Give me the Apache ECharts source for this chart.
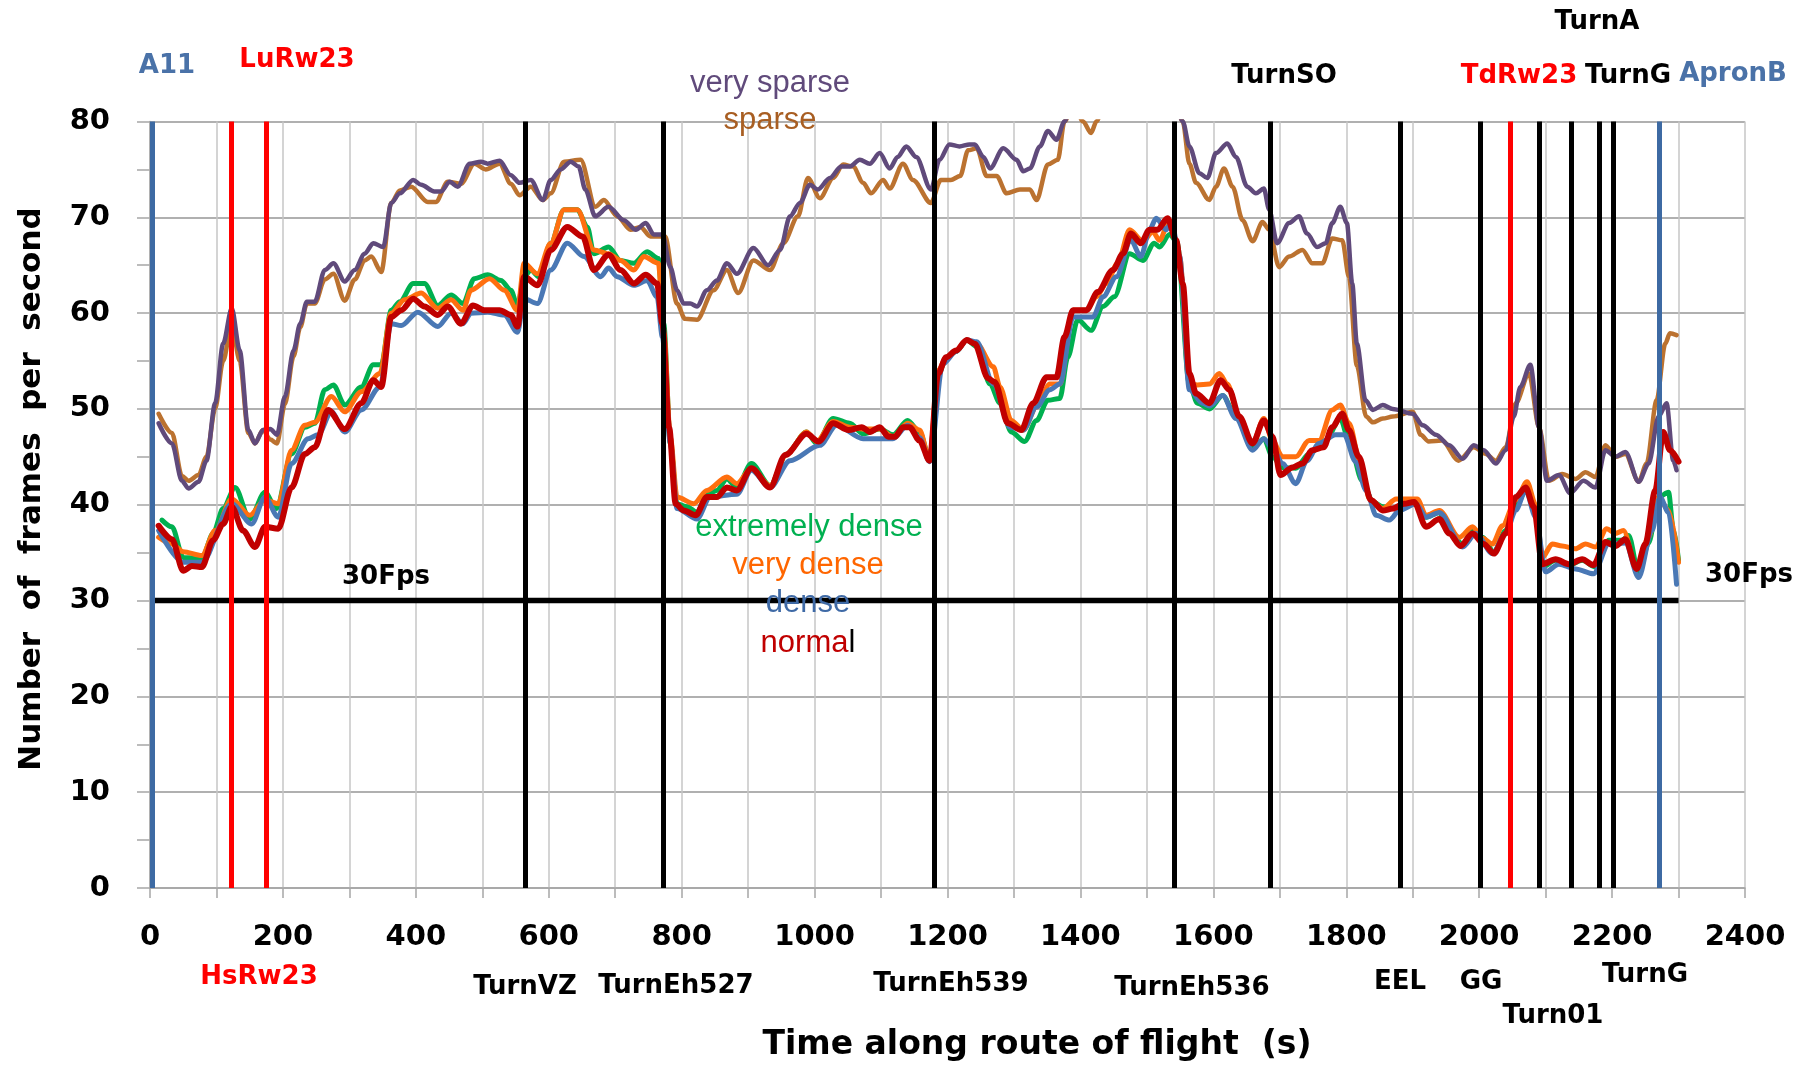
<!DOCTYPE html>
<html><head><meta charset="utf-8">
<script src="https://cdn.jsdelivr.net/npm/echarts@6.0.0/dist/echarts.min.js"></script>
<style>html,body{margin:0;padding:0;background:#fff}#c{width:1797px;height:1068px}</style>
</head><body><div id="c"></div>
<script>
// ---- data: [time (s), frames per second] ----
const verySparse = [[13,48.5],[33,46.4],[48,42.5],[58,41.7],[73,42.4],[85,44.6],[98,50.6],[110,56.8],[123,60.5],[135,56.1],[148,47.8],[158,46.4],[170,47.8],[181,47.9],[191,47.3],[203,51.3],[216,56.1],[226,58.9],[236,61.2],[248,61.2],[263,64.5],[276,65.2],[293,63.3],[308,64.5],[323,66.2],[336,67.3],[351,66.9],[363,71.5],[376,72.5],[396,73.9],[408,73.4],[428,72.7],[438,72.7],[451,73.7],[463,73.2],[481,75.6],[498,75.8],[508,75.6],[526,75.9],[543,74.4],[556,73.6],[573,73.9],[591,71.8],[603,73.9],[618,75],[633,75.8],[645,75.3],[655,72.9],[670,70.1],[690,71.1],[713,69.7],[731,68.7],[746,69.4],[758,68.2],[771,68.2],[783,64.8],[793,62.4],[803,61],[813,61],[823,60.7],[838,62.4],[853,63.4],[868,65.2],[883,64.1],[908,66.8],[930,65],[948,66.6],[963,70.1],[978,71.5],[993,73.4],[1005,72.9],[1023,74.1],[1040,75.3],[1053,75.3],[1068,76],[1083,75.6],[1098,76.7],[1113,75.1],[1125,76.3],[1138,77.4],[1153,76.3],[1175,72.9],[1188,76],[1203,77.6],[1218,77.4],[1233,77.6],[1241,77.6],[1254,76.3],[1264,75.1],[1284,77.2],[1304,76],[1314,74.8],[1324,75.1],[1339,77.4],[1351,79],[1364,78.1],[1376,80],[1390,83],[1420,85],[1460,86],[1500,85],[1540,83],[1554,80],[1564,77.4],[1579,74.6],[1591,74.1],[1604,76.7],[1621,77.7],[1634,76.3],[1651,73.2],[1664,72.5],[1676,73],[1684,70.8],[1696,67.3],[1714,69.4],[1729,70.1],[1741,68.3],[1756,66.9],[1769,67.3],[1779,69.4],[1791,71.1],[1801,69.4],[1809,63.1],[1816,56.8],[1829,50.9],[1840,49.9],[1855,50.4],[1870,50],[1900,49.5],[1915,48.3],[1935,47.3],[1955,46.2],[1975,44.8],[1992,46.2],[2007,45.7],[2025,44.3],[2040,45.7],[2052,49.2],[2062,52.3],[2077,54.6],[2090,48.1],[2102,42.5],[2120,43.1],[2137,41.2],[2157,42.5],[2175,41.8],[2190,45.7],[2205,45],[2220,45.5],[2240,42.4],[2255,44.3],[2270,49.2],[2282,50.6],[2292,44.6],[2297,43.6]];
const sparse = [[13,49.5],[33,47.5],[48,43],[58,42.5],[73,43.1],[85,45],[98,50],[110,55],[123,58.9],[135,55],[148,47.5],[158,46.4],[170,47.8],[181,46.8],[191,46.4],[203,50.5],[216,55.5],[226,58.5],[236,61],[248,61],[263,63.5],[276,64.1],[293,61.3],[308,63.5],[323,65.5],[333,65.9],[348,64.3],[363,71.5],[376,72.8],[393,73.2],[418,71.6],[430,71.6],[448,73.7],[468,73.5],[488,75.6],[505,75],[526,75.6],[543,73.5],[556,72.3],[573,73.2],[591,71.8],[603,72.5],[623,75.8],[648,76],[670,71.1],[683,71.8],[703,70.1],[723,68.7],[738,69],[753,68],[775,68],[793,61],[805,59.4],[823,59.3],[848,62.4],[868,64.5],[885,62.1],[908,65.5],[933,64.5],[953,67.3],[975,70.1],[990,74.1],[1008,72],[1028,74.1],[1043,75.5],[1058,75.3],[1073,73.6],[1085,72.5],[1103,73.9],[1113,73],[1133,75.6],[1148,73.9],[1175,71.5],[1190,73.9],[1205,73.9],[1219,74.3],[1231,77],[1244,77.2],[1259,74.3],[1274,74.3],[1289,72.5],[1309,72.9],[1324,72.9],[1334,71.8],[1351,75.5],[1366,76],[1376,80],[1390,82],[1404,80],[1416,78.8],[1424,80],[1440,83],[1500,85],[1540,83],[1554,80],[1564,75.6],[1574,73.6],[1594,71.8],[1604,73.2],[1616,75.1],[1629,73.2],[1644,69.7],[1659,67.5],[1674,69.5],[1684,68.7],[1699,64.8],[1714,65.9],[1734,66.6],[1749,65.2],[1764,65.2],[1779,67.8],[1794,67.6],[1804,63.8],[1816,54.5],[1830,49.2],[1840,48.6],[1855,49],[1870,49.2],[1900,49.7],[1912,47.3],[1924,46.6],[1944,46.7],[1969,44.6],[1992,46],[2010,45.3],[2025,44.6],[2040,46],[2055,50.6],[2075,53.7],[2090,48.1],[2105,42.5],[2125,43.2],[2145,42.7],[2160,43.4],[2175,42.9],[2190,46.2],[2205,45],[2220,45.3],[2240,42.4],[2252,44.3],[2267,50.9],[2280,56.8],[2287,57.9],[2297,57.7]];
const extremelyDense = [[18,38.4],[33,37.7],[50,34.5],[78,34.4],[95,37],[110,39.6],[128,41.8],[150,38.5],[173,41.3],[190,39.6],[213,45.3],[233,48.1],[248,48.5],[263,52],[276,52.5],[293,50.4],[318,52.3],[336,54.6],[348,54.6],[363,60.3],[376,61.2],[396,63.1],[413,63.1],[433,60.8],[453,61.9],[471,61],[488,63.6],[508,64],[528,63.4],[543,62.4],[553,60.7],[563,63.8],[573,64.5],[585,63.8],[603,67.3],[623,70.8],[643,70.8],[658,69],[668,66.2],[690,66.9],[708,65.5],[728,65.2],[748,66.4],[765,65.7],[773,58.9],[783,46.4],[793,40.1],[808,39.8],[823,39.2],[838,41.1],[853,41.5],[868,42.7],[883,41.8],[905,44.3],[933,42],[958,45.3],[988,47.6],[1003,46.4],[1028,49],[1053,48.5],[1073,47.4],[1098,47.9],[1118,47.3],[1140,48.8],[1158,47.6],[1173,44.8],[1186,53.5],[1198,55.4],[1213,56],[1229,57.2],[1244,56.5],[1264,52.6],[1279,50.6],[1296,47.6],[1316,46.6],[1334,48.8],[1351,50.9],[1369,51.1],[1381,55.4],[1396,59.3],[1416,58.2],[1434,60.7],[1451,61.7],[1474,66.2],[1494,65.5],[1511,67.3],[1519,66.9],[1534,68.2],[1545,67.5],[1564,52.6],[1576,50.6],[1594,50],[1614,51.4],[1634,49.2],[1659,45.9],[1676,46.9],[1689,45],[1704,43.9],[1724,43.8],[1744,45.3],[1769,46.7],[1791,49],[1804,46.7],[1824,42.5],[1840,40.3],[1855,39.8],[1870,39.6],[1887,40.1],[1905,40.3],[1920,38.7],[1940,39.2],[1955,37.3],[1975,35.9],[1990,37.3],[2005,36.6],[2022,35.1],[2040,37.3],[2055,39.8],[2070,41.5],[2085,39.4],[2095,33.5],[2115,34.2],[2135,33.7],[2155,34.2],[2175,33.5],[2195,36.3],[2215,36.3],[2225,36.8],[2240,32.8],[2255,36],[2270,40.8],[2285,41.3],[2292,37.5],[2300,34.2]];
const veryDense = [[13,36.6],[33,35.9],[50,35.1],[78,34.7],[98,37.3],[123,40.6],[150,38.9],[173,40.5],[193,40.1],[213,45.7],[233,48.3],[248,48.6],[273,51.3],[293,49.7],[318,51.8],[346,53.7],[363,60],[383,61.4],[408,62.1],[433,60.5],[453,61.4],[471,60.3],[483,62.4],[511,63.6],[533,62.4],[553,60.3],[563,65.2],[583,64.1],[603,67.3],[623,70.8],[643,70.8],[668,66.6],[690,66.2],[708,65.5],[728,64.5],[743,65.9],[765,65.2],[773,58],[783,47],[793,40.8],[818,40.1],[838,41.5],[868,42.9],[883,42.2],[905,43.8],[933,42],[958,45.3],[988,47.6],[1003,46.6],[1028,48.7],[1053,48.1],[1073,47.9],[1098,47.9],[1118,47.1],[1140,48.5],[1158,47.8],[1173,44.7],[1186,54],[1198,55.4],[1213,56.1],[1229,57.2],[1244,56.8],[1269,54.4],[1279,52.3],[1296,48.8],[1314,47.8],[1334,50.2],[1354,52.6],[1369,52.6],[1389,60.3],[1409,60.3],[1424,61.7],[1439,63.1],[1456,65.2],[1474,68.7],[1494,67.5],[1509,68.5],[1519,67.6],[1534,69.7],[1549,66],[1564,52.6],[1576,52.5],[1594,52.6],[1609,53.7],[1621,52.6],[1639,49.2],[1659,46.4],[1676,49],[1689,46.7],[1704,45],[1724,45],[1744,46.7],[1759,46.7],[1779,49.9],[1791,50.4],[1804,48.5],[1824,43.5],[1835,40.6],[1855,39.6],[1875,40.6],[1892,40.6],[1907,40.6],[1920,38.9],[1940,39.4],[1970,36.6],[1990,37.7],[2005,36.5],[2020,35.9],[2035,37.8],[2055,40.5],[2072,42.4],[2085,40],[2095,34.5],[2110,35.9],[2125,35.7],[2145,35.4],[2160,35.9],[2175,35.6],[2192,37.5],[2205,37],[2217,37.3],[2237,33.3],[2255,36.6],[2270,40.8],[2285,39.4],[2300,34]];
const dense = [[13,37.3],[50,34],[78,34],[123,40.1],[153,38],[173,40.8],[193,38.7],[213,44.3],[238,46.9],[253,47.3],[273,49.7],[293,47.6],[318,49.9],[346,52.3],[363,58.9],[378,58.7],[403,60.1],[433,58.6],[453,60],[471,58.9],[483,60],[508,60.1],[533,59.8],[553,58],[563,61.5],[583,61],[603,64.5],[628,67.3],[653,65.9],[678,63.8],[690,64.7],[703,63.8],[728,62.9],[748,63.4],[763,61.7],[771,57.5],[783,46.4],[793,39.6],[823,38.5],[843,40.8],[883,41.1],[905,43.6],[933,41.8],[963,44.6],[1008,46.2],[1033,48.3],[1073,46.9],[1118,46.9],[1140,48.3],[1158,47],[1173,44.5],[1193,54.7],[1213,56],[1229,57.2],[1244,57],[1269,52.6],[1294,48.1],[1314,47.8],[1334,50.2],[1354,52],[1369,52.6],[1389,59.6],[1419,59.6],[1434,61.7],[1454,63.8],[1476,67.6],[1491,65.9],[1504,68.7],[1514,69.9],[1529,68.7],[1537,69.5],[1549,66],[1564,52],[1584,50.6],[1594,50.3],[1614,51.4],[1634,49],[1659,45.7],[1676,46.9],[1691,45.7],[1704,44.3],[1724,42.2],[1741,44.6],[1759,46.4],[1784,47.3],[1797,47.3],[1814,44.5],[1830,41.5],[1845,38.9],[1865,38.4],[1880,39.4],[1905,40.1],[1920,38.7],[1940,39.2],[1975,35.6],[1995,37],[2020,34.9],[2040,37],[2055,39.4],[2070,41.5],[2085,38.7],[2100,33],[2120,33.8],[2145,33.3],[2172,32.8],[2195,35.9],[2220,36],[2240,32.4],[2260,37.3],[2272,40.8],[2285,39.2],[2297,31.7]];
const normal = [[13,37.8],[33,36.4],[50,33.1],[63,33.6],[78,33.5],[95,36.3],[110,38],[123,39.8],[140,37.3],[158,35.6],[173,37.7],[193,37.5],[213,41.8],[233,45.3],[248,46],[268,49.9],[293,47.9],[318,50.6],[336,53],[348,52.3],[363,59.6],[378,60.3],[396,61.5],[413,60.7],[433,59.8],[448,60.7],[468,58.9],[486,60.8],[503,60.3],[526,60.3],[543,59.8],[553,58.6],[563,63.8],[583,62.9],[603,66.6],[628,69],[651,68],[668,64.5],[690,66.1],[708,64.5],[728,63.1],[746,64],[763,63.1],[771,58.9],[781,48.1],[791,40.1],[803,39.4],[821,38.9],[838,40.8],[853,40.8],[868,41.8],[883,41.5],[905,43.8],[933,41.8],[956,45.2],[988,47.4],[1006,46.6],[1028,48.5],[1051,47.8],[1071,48.1],[1083,47.6],[1098,48.1],[1111,47.1],[1121,47.1],[1133,48.1],[1143,48.1],[1158,46.7],[1173,44.6],[1186,53.7],[1198,55.4],[1213,56.1],[1229,57.2],[1241,56.8],[1261,53.2],[1271,52.8],[1291,48.5],[1311,47.8],[1329,50.6],[1349,53.3],[1364,53.3],[1376,57.5],[1389,60.3],[1409,60.3],[1426,62.2],[1449,64.5],[1464,66.2],[1476,68.3],[1491,67.3],[1504,68.7],[1516,68.7],[1531,69.9],[1544,67.6],[1554,63.1],[1564,53.7],[1574,51.6],[1594,50.6],[1611,53],[1624,52],[1639,49.2],[1659,46.4],[1676,48.8],[1689,47.1],[1701,43.1],[1719,43.9],[1734,44.3],[1749,45.7],[1766,46],[1779,48.1],[1794,49.5],[1804,47.8],[1819,45],[1837,40.5],[1855,39.4],[1870,39.6],[1887,40.1],[1902,40.3],[1920,37.7],[1940,38.5],[1955,37],[1972,35.7],[1990,37],[2007,35.9],[2022,34.9],[2040,37],[2055,40.8],[2070,41.8],[2082,39.8],[2095,33.8],[2115,34.3],[2135,33.8],[2155,34.3],[2172,33.7],[2190,36.1],[2205,35.7],[2220,36.4],[2237,33.3],[2250,35.9],[2265,41.5],[2277,47.6],[2287,45.7],[2300,44.5]];
const thresholdLine = [[0,30],[2300,30]];
const markerTimes = [3,122,175,564,773,1180,1541,1685,1881,2001,2047,2091,2139,2180,2202,2271];
const markerKinds = ['apron','runway','runway','turn','turn','turn','turn','turn','turn','turn','runway','turn','turn','turn','turn','apron'];

const kindColor = {apron:'#3d6aa3', runway:'#ff0000', turn:'#000000'};
const kindWidth = {apron:5, runway:5, turn:5};

const chart = echarts.init(document.getElementById('c'), null, {renderer:'canvas'});
const F = '"DejaVu Sans", sans-serif';
const A = '"Liberation Sans", Arial, sans-serif';
function lineSeries(name, data, color, width) {
  return {name, type:'line', data, showSymbol:false, symbol:'none', smooth:0.3, smoothMonotone:'x',
    lineStyle:{color, width, join:'round', cap:'round'}, itemStyle:{color}, silent:true, animation:false, z:3};
}
const txt = (text, x, y, fill, font, extra) => Object.assign({type:'text', x, y, silent:true, z:100,
  style:{text, fill, font, align:'center', verticalAlign:'middle'}}, extra || {});

chart.setOption({
  animation:false,
  backgroundColor:'#ffffff',
  grid:{left:150, right:52, top:121.5, bottom:180, containLabel:false},
  xAxis:{type:'value', min:0, max:2400, interval:100,
    axisLine:{show:true, lineStyle:{color:'#a6a6a6', width:1.5}},
    axisTick:{show:true, length:10, lineStyle:{color:'#a6a6a6', width:1.5}},
    axisLabel:{margin:35, color:'#000', fontFamily:'DejaVu Sans', fontWeight:'bold', fontSize:29,
      formatter:v => (v % 200 === 0 ? String(v) : '')},
    splitLine:{show:true, lineStyle:{color:'#c6c6c6', width:1.5}}},
  yAxis:{type:'value', min:0, max:80, interval:10,
    axisLine:{show:true, lineStyle:{color:'#a6a6a6', width:1.5}},
    axisTick:{show:true, length:13, lineStyle:{color:'#a6a6a6', width:1.5}},
    minorTick:{show:true, splitNumber:2, length:13, lineStyle:{color:'#a6a6a6', width:1.5}},
    axisLabel:{margin:40, color:'#000', fontFamily:'DejaVu Sans', fontWeight:'bold', fontSize:29},
    splitLine:{show:true, lineStyle:{color:'#b0b0b0', width:1.8}}},
  series:[
    {name:'30Fps', type:'line', data:thresholdLine, showSymbol:false, symbol:'none',
      lineStyle:{color:'#000', width:5.5}, silent:true, z:2},
    lineSeries('sparse', sparse, '#bb7230', 4.5),
    lineSeries('very sparse', verySparse, '#604a7b', 4.5),
    lineSeries('extremely dense', extremelyDense, '#00b050', 5),
    lineSeries('very dense', veryDense, '#ff6f0f', 5),
    lineSeries('dense', dense, '#4a78b5', 5),
    lineSeries('normal', normal, '#c00000', 6),
    {name:'markers', type:'line', data:[], silent:true, z:5,
      markLine:{silent:true, symbol:['none','none'], animation:false, label:{show:false},
        data: markerTimes.map((t,i) => ({xAxis:t, lineStyle:{type:'solid', color:kindColor[markerKinds[i]], width:kindWidth[markerKinds[i]]}}))}}
  ],
  graphic:[
    txt('Number  of  frames  per  second', 32, 489, '#000', 'bold 31px ' + F, {rotation:Math.PI/2}),
    txt('Time along route of flight  (s)', 1037, 1045, '#000', 'bold 33px ' + F),
    // top marker labels
    txt('A11', 167, 66, '#4a72a8', 'bold 26px ' + F),
    txt('LuRw23', 297, 60, '#ff0000', 'bold 26px ' + F),
    txt('TurnSO', 1284, 76, '#000', 'bold 26px ' + F),
    txt('TdRw23', 1519, 76, '#ff0000', 'bold 26px ' + F),
    txt('TurnG', 1628, 76, '#000', 'bold 26px ' + F),
    txt('ApronB', 1733, 74, '#4a72a8', 'bold 26px ' + F),
    txt('TurnA', 1597, 22, '#000', 'bold 26px ' + F),
    // bottom marker labels
    txt('HsRw23', 259, 977, '#ff0000', 'bold 26px ' + F),
    txt('TurnVZ', 525, 987, '#000', 'bold 26px ' + F),
    txt('TurnEh527', 676, 986, '#000', 'bold 26px ' + F),
    txt('TurnEh539', 951, 984, '#000', 'bold 26px ' + F),
    txt('TurnEh536', 1192, 988, '#000', 'bold 26px ' + F),
    txt('EEL', 1400, 982, '#000', 'bold 26px ' + F),
    txt('GG', 1481, 982, '#000', 'bold 26px ' + F),
    txt('Turn01', 1553, 1016, '#000', 'bold 26px ' + F),
    txt('TurnG', 1645, 975, '#000', 'bold 26px ' + F),
    // 30 fps labels
    txt('30Fps', 386, 577, '#000', 'bold 26px ' + F),
    txt('30Fps', 1749, 575, '#000', 'bold 26px ' + F),
    // series labels
    txt('very sparse', 770, 83, '#604a7b', '31px ' + A),
    txt('sparse', 770, 120, '#a85e22', '31px ' + A),
    txt('extremely dense', 809, 527, '#00b050', '31px ' + A),
    txt('very dense', 808, 565, '#ff6600', '31px ' + A),
    txt('dense', 808, 603, '#3f6aa6', '31px ' + A),
    {type:'text', x:808, y:643, silent:true, z:100,
      style:{text:'{a|norma}{b|l}', align:'center', verticalAlign:'middle', font:'31px ' + A,
        rich:{a:{fill:'#c00000', font:'31px ' + A}, b:{fill:'#000', font:'31px ' + A}}}}
  ]
});
</script>
</body></html>
